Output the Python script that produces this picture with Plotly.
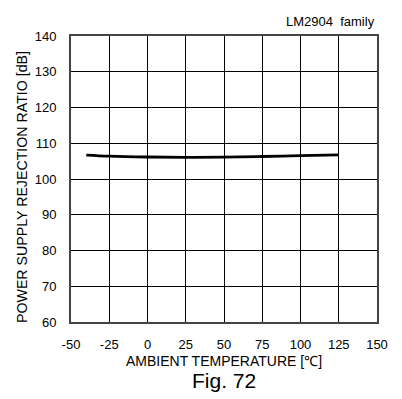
import plotly.graph_objects as go

temps = [-40, -25, 0, 25, 50, 75, 100, 125]
psrr = [106.7, 106.4, 106.15, 106.05, 106.1, 106.3, 106.55, 106.75]
x_ticks = [-50, -25, 0, 25, 50, 75, 100, 125, 150]
x_labels = ["-50", "-25", "0", "25", "50", "75", "100", "125", "150"]
y_ticks = [60, 70, 80, 90, 100, 110, 120, 130, 140]

fig = go.Figure()
fig.add_trace(go.Scatter(x=temps, y=psrr, mode="lines", line=dict(color="black", width=2.8, shape="spline"), showlegend=False))

L, R, T, B = 63, 33, 28, 85
W, H = 402, 399
pw, ph = W - L - R, H - T - B

font = "Liberation Sans, Arial, sans-serif"
fig.update_layout(
    width=W, height=H,
    margin=dict(l=L, r=R, t=T, b=B),
    paper_bgcolor="white", plot_bgcolor="white",
    font=dict(family=font, color="black", size=13),
    xaxis=dict(range=[-50, 150], tickvals=x_ticks, ticktext=x_labels, showgrid=True, gridcolor="black", gridwidth=1,
               showline=True, mirror=True, linecolor="#444", linewidth=2, zeroline=False,
               ticks="", tickfont=dict(size=13), ticklabelstandoff=9, automargin=False),
    yaxis=dict(range=[60, 140], tickvals=y_ticks, showgrid=True, gridcolor="black", gridwidth=1,
               showline=True, mirror=True, linecolor="#444", linewidth=2, zeroline=False,
               ticks="", tickfont=dict(size=13), ticklabelstandoff=10, automargin=False),
    annotations=[
        dict(text="POWER SUPPLY REJECTION RATIO [dB]", x=(14 - L) / pw, y=(H - B - 179) / ph,
             xref="paper", yref="paper", xanchor="center", yanchor="middle",
             textangle=-90, showarrow=False, font=dict(size=14.2)),
        dict(text="AMBIENT TEMPERATURE [℃]", x=0.5, y=-0.136, xref="paper", yref="paper",
             xanchor="center", yanchor="middle", showarrow=False, font=dict(size=14)),
        dict(text="Fig. 72", x=0.5, y=-0.203, xref="paper", yref="paper",
             xanchor="center", yanchor="middle", showarrow=False, font=dict(size=21)),
        dict(text="LM2904  family", x=1.0, y=1.05, xref="paper", yref="paper",
             xanchor="right", yanchor="middle", showarrow=False, font=dict(size=13)),
    ],
)
fig.write_html("out.html")
